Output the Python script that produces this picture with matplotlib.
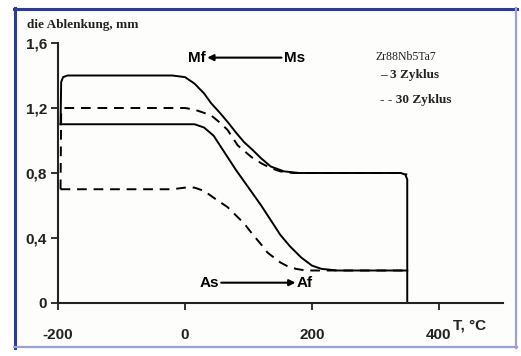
import matplotlib
matplotlib.use("Agg")
import matplotlib.pyplot as plt
from matplotlib.lines import Line2D

# ---- data ----
# 3 Zyklus, cooling branch (upper solid)
t_cool3 = [-196, -195, -192, -185, -100, -20, 0, 15, 30, 41, 55, 68, 80, 93, 107, 120, 135, 156, 180, 250, 340, 347, 350, 350]
d_cool3 = [1.10, 1.36, 1.39, 1.40, 1.40, 1.40, 1.39, 1.35, 1.29, 1.23, 1.17, 1.11, 1.05, 0.99, 0.94, 0.89, 0.84, 0.81, 0.80, 0.80, 0.80, 0.79, 0.76, 0.0]
# 3 Zyklus, heating branch (lower solid)
t_heat3 = [-196, 0, 15, 30, 45, 60, 80, 100, 120, 135, 150, 165, 183, 200, 215, 240, 300, 350]
d_heat3 = [1.10, 1.10, 1.10, 1.08, 1.03, 0.94, 0.82, 0.71, 0.60, 0.51, 0.42, 0.35, 0.28, 0.23, 0.21, 0.20, 0.20, 0.20]
# 30 Zyklus, cooling branch (upper dashed)
t_cool30 = [-196, -195, -190, -100, 0, 15, 30, 41, 55, 67, 83, 104, 120, 135, 150, 170, 250, 340, 350]
d_cool30 = [0.70, 1.18, 1.20, 1.20, 1.20, 1.19, 1.17, 1.155, 1.11, 1.065, 0.97, 0.90, 0.86, 0.83, 0.81, 0.80, 0.80, 0.80, 0.79]
# 30 Zyklus, heating branch (lower dashed)
t_heat30 = [-196, -100, -20, 0, 15, 30, 48, 67, 80, 93, 107, 120, 130, 140, 150, 162, 175, 190, 250, 345]
d_heat30 = [0.70, 0.70, 0.70, 0.71, 0.71, 0.69, 0.64, 0.59, 0.54, 0.49, 0.42, 0.36, 0.31, 0.28, 0.25, 0.225, 0.21, 0.20, 0.20, 0.20]

x_ticks = [-200, 0, 200, 400]
x_tick_labels = ["-200", "0", "200", "400"]
y_ticks = [0, 0.4, 0.8, 1.2, 1.6]
y_tick_labels = ["0", "0,4", "0,8", "1,2", "1,6"]

sans = "Liberation Sans"
serif = "Liberation Serif"

fig = plt.figure(figsize=(5.21, 3.56), dpi=100)
fig.patch.set_facecolor("white")

# frame border
W, H = 521, 356
def fx(p): return p / W
def fy(p): return 1 - p / H
fig.add_artist(plt.Rectangle((fx(14), fy(347)), fx(516) - fx(14), fy(9) - fy(347),
                             transform=fig.transFigure, facecolor="#fdfdfb", edgecolor="none", zorder=0))
fig.add_artist(Line2D([fx(14.5), fx(14.5)], [fy(8), fy(347.5)], transform=fig.transFigure, color="#2f3c8f", lw=2.2))
fig.add_artist(Line2D([fx(13.5), fx(516.5)], [fy(9.2), fy(9.2)], transform=fig.transFigure, color="#2f3c8f", lw=2.2))
fig.add_artist(Line2D([fx(516), fx(516)], [fy(8), fy(348)], transform=fig.transFigure, color="#9aa2d4", lw=1.6))
fig.add_artist(Line2D([fx(13.5), fx(516.5)], [fy(347), fy(347)], transform=fig.transFigure, color="#9aa2d4", lw=1.6))

ax = fig.add_axes([58 / W, (H - 303) / H, (502.5 - 58) / W, 260 / H])
ax.set_facecolor("none")

ax.plot(t_cool3, d_cool3, color="black", lw=1.4, solid_joinstyle="round")
ax.plot(t_heat3, d_heat3, color="black", lw=1.4)
ax.plot(t_cool30, d_cool30, color="black", lw=1.4, ls=(0, (5, 3.5)))
ax.plot(t_heat30, d_heat30, color="black", lw=1.4, ls=(0, (5, 3.5)))

ax.set_xlim(-200, 500)
ax.set_ylim(0, 1.6)
for s in ["top", "right"]:
    ax.spines[s].set_visible(False)
for s in ["left", "bottom"]:
    ax.spines[s].set_linewidth(1.5)
    ax.spines[s].set_color("#222222")

ax.set_xticks(x_ticks)
ax.set_xticklabels(x_tick_labels, fontfamily=sans, fontweight="bold", fontsize=11)
ax.set_yticks(y_ticks)
ax.set_yticklabels(y_tick_labels, fontfamily=sans, fontweight="bold", fontsize=11)
ax.tick_params(axis="x", direction="out", length=5, width=1.3, pad=13, colors="#222222")
ax.tick_params(axis="y", direction="out", length=5, width=1.3, pad=3, colors="#222222")
for lbl in ax.get_xticklabels() + ax.get_yticklabels():
    lbl.set_color("#222222")

# axis titles
fig.text(27 / W, fy(25), "die Ablenkung, mm", fontfamily=serif, fontweight="bold",
         fontsize=9.5, ha="left", va="center", color="#222222")
fig.text(470 / W, fy(325), "T, °C", fontfamily=sans, fontweight="bold",
         fontsize=11, ha="center", va="center", color="#222222")

# transformation annotations
ax.text(19, 1.51, "Mf", fontfamily=sans, fontweight="bold", fontsize=11, ha="center", va="center")
ax.text(172, 1.51, "Ms", fontfamily=sans, fontweight="bold", fontsize=11, ha="center", va="center")
ax.annotate("", xy=(35, 1.51), xytext=(152, 1.51),
            arrowprops=dict(arrowstyle="-|>", color="black", lw=1.5, mutation_scale=9, shrinkA=0, shrinkB=0))
ax.text(38, 0.125, "As", fontfamily=sans, fontweight="bold", fontsize=11, ha="center", va="center")
ax.text(188, 0.125, "Af", fontfamily=sans, fontweight="bold", fontsize=11, ha="center", va="center")
ax.annotate("", xy=(174, 0.125), xytext=(57, 0.125),
            arrowprops=dict(arrowstyle="-|>", color="black", lw=1.5, mutation_scale=9, shrinkA=0, shrinkB=0))

# legend text
fig.text(375 / W, fy(57), "Zr88Nb5Ta7", fontfamily=serif, fontsize=8.5, ha="left", va="center", color="#222222")
fig.text(380 / W, fy(75), "\u2013 3 Zyklus", fontfamily=serif, fontweight="bold", fontsize=9.5,
         ha="left", va="center", color="#222222")
fig.text(380 / W, fy(100), "- - 30 Zyklus", fontfamily=serif, fontweight="bold", fontsize=9.5,
         ha="left", va="center", color="#222222")

fig.savefig("out.png", dpi=100)
